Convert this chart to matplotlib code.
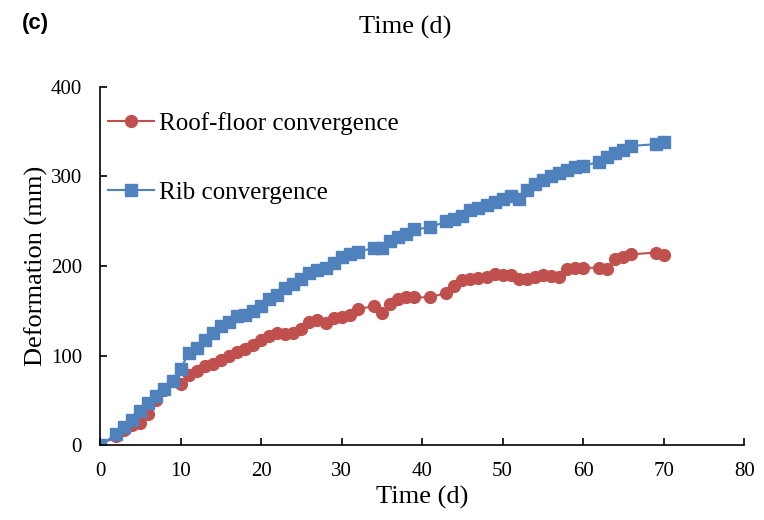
import matplotlib.pyplot as plt

# Roof-floor convergence (mm)
roof_days = [0, 2, 3, 4, 5, 6, 7, 8, 9, 10, 11, 12, 13, 14, 15, 16, 17, 18, 19, 20,
             21, 22, 23, 24, 25, 26, 27, 28, 29, 30, 31, 32, 34, 35, 36, 37, 38, 39,
             41, 43, 44, 45, 46, 47, 48, 49, 50, 51, 52, 53, 54, 55, 56, 57, 58, 59,
             60, 62, 63, 64, 65, 66, 69, 70]
roof_vals = [0, 10, 17, 22, 25, 35, 50, 62, 72, 68, 78, 83, 88, 91, 95, 100, 104, 107,
             112, 117, 122, 125, 124, 125, 130, 138, 140, 136, 142, 143, 145, 152, 155,
             148, 157, 163, 165, 165, 165, 170, 178, 184, 186, 187, 188, 191, 190, 190,
             185, 186, 188, 190, 189, 188, 197, 198, 198, 198, 197, 208, 210, 213, 215, 212]

# Rib convergence (mm)
rib_days = roof_days
rib_vals = [0, 12, 20, 28, 38, 47, 55, 63, 72, 85, 103, 108, 117, 125, 133, 138, 144,
            145, 150, 155, 163, 168, 175, 180, 186, 192, 196, 198, 203, 210, 213, 216,
            220, 220, 228, 232, 236, 241, 243, 250, 253, 256, 262, 265, 268, 271, 275,
            278, 275, 285, 292, 296, 300, 304, 307, 310, 312, 316, 322, 326, 330, 334,
            336, 338]

serif = ['Liberation Serif', 'DejaVu Serif']

fig = plt.figure(figsize=(7.64, 5.2), dpi=100)
ax = fig.add_axes([0.131, 0.144, 0.843, 0.689])

ax.plot(roof_days, roof_vals, color='#C0504D', marker='o', markersize=8.5,
        linewidth=1.5, label='Roof-floor convergence')
ax.plot(rib_days, rib_vals, color='#4F81BD', marker='s', markersize=8.5,
        linewidth=1.5, label='Rib convergence')

ax.set_xlim(0, 80)
ax.set_ylim(0, 400)
ax.set_xticks(range(0, 81, 10))
ax.set_yticks(range(0, 401, 100))
ax.spines['top'].set_visible(False)
ax.spines['right'].set_visible(False)
ax.spines['left'].set_linewidth(1.2)
ax.spines['bottom'].set_linewidth(1.2)
ax.tick_params(direction='in', length=5, width=1.2, labelsize=15)
ax.tick_params(axis='x', pad=12)
ax.tick_params(axis='y', pad=13)
for lbl in ax.get_xticklabels() + ax.get_yticklabels():
    lbl.set_family(serif)

ax.set_xlabel('Time (d)', fontsize=19, family=serif, labelpad=4)
ax.set_ylabel('Deformation (mm)', fontsize=19, family=serif, labelpad=2)

leg = ax.legend(loc='upper left', bbox_to_anchor=(0.0, 0.95), frameon=False,
                prop={'family': serif, 'size': 18}, labelspacing=1.85,
                handlelength=1.85, handletextpad=0.2, borderaxespad=0.0,
                borderpad=0.3)

fig.text(0.53, 0.948, 'Time (d)', fontsize=19, family=serif, ha='center', va='center')
fig.text(0.028, 0.955, '(c)', fontsize=16, fontweight='bold', family=['Liberation Sans', 'DejaVu Sans'],
         ha='left', va='center')

plt.savefig('out.png', dpi=100)
